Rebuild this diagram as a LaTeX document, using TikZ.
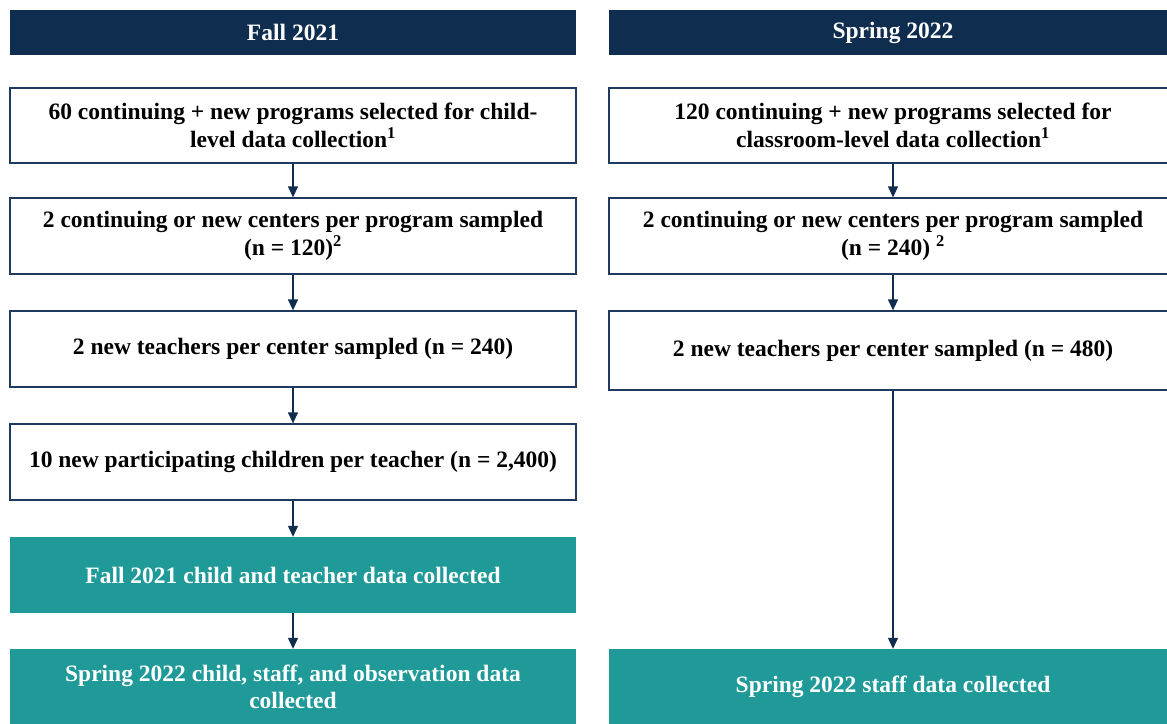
\documentclass[tikz,border=0pt]{standalone}
\usepackage{fontspec}
\setmainfont{Liberation Serif}
\usetikzlibrary{arrows.meta}
\definecolor{navy}{RGB}{15,45,78}
\definecolor{teal2}{RGB}{31,154,152}
\definecolor{boxline}{RGB}{30,58,95}
\begin{document}
\begin{tikzpicture}[x=1pt,y=-1pt,
  txt/.style={font=\fontsize{23.5}{27.5}\selectfont\bfseries, align=center, inner sep=0pt},
  hdr/.style={txt, fill=navy, text=white, minimum height=45pt},
  wbox/.style={txt, draw=boxline, line width=1.3pt, fill=white, text=black, minimum height=76pt},
  tbox/.style={txt, fill=teal2, text=white, minimum height=76pt},
  lcol/.style={minimum width=566pt},
  rcol/.style={minimum width=568pt},
  conn/.style={draw=navy, line width=1.3pt, -{Triangle[width=10pt,length=11pt]}}]
\useasboundingbox (0,0) rectangle (1167,723);
\clip (0,0) rectangle (1167,723);
% headers
\node[hdr, lcol] (h1) at (293,32.5) {Fall 2021};
\node[hdr, rcol] (h2) at (893,32.5) {Spring 2022};
% left column
\node[wbox, lcol, minimum height=75pt] (l1) at (293,125.5) {60 continuing + new programs selected for child-\\level data collection\textsuperscript{1}};
\node[wbox, lcol] (l2) at (293,236) {2 continuing or new centers per program sampled\\(n = 120)\textsuperscript{2}};
\node[wbox, lcol] (l3) at (293,349) {2 new teachers per center sampled (n = 240)};
\node[wbox, lcol] (l4) at (293,462) {10 new participating children per teacher (n = 2,400)};
\node[tbox, lcol] (l5) at (293,575) {Fall 2021 child and teacher data collected};
\node[tbox, lcol] (l6) at (293,687) {Spring 2022 child, staff, and observation data\\collected};
% right column
\node[wbox, rcol, minimum height=75pt] (r1) at (893,125.5) {120 continuing + new programs selected for\\classroom-level data collection\textsuperscript{1}};
\node[wbox, rcol] (r2) at (893,236) {2 continuing or new centers per program sampled\\(n = 240) \textsuperscript{2}};
\node[wbox, rcol, minimum height=79pt] (r3) at (893,350.5) {2 new teachers per center sampled (n = 480)};
\node[tbox, rcol] (r4) at (893,687) {Spring 2022 staff data collected};
% connectors
\draw[conn] (l1.south) -- (l2.north);
\draw[conn] (l2.south) -- (l3.north);
\draw[conn] (l3.south) -- (l4.north);
\draw[conn] (l4.south) -- (l5.north);
\draw[conn] (l5.south) -- (l6.north);
\draw[conn] (r1.south) -- (r2.north);
\draw[conn] (r2.south) -- (r3.north);
\draw[conn] (r3.south) -- (r4.north);
\end{tikzpicture}
\end{document}
